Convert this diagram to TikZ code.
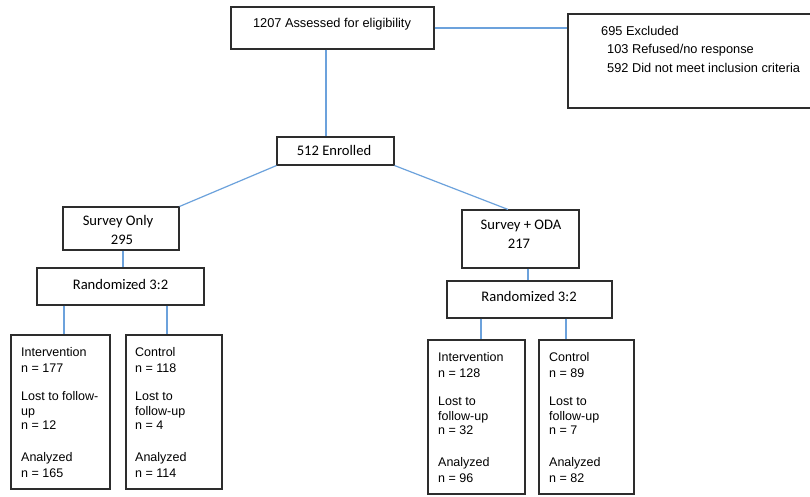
\documentclass[tikz,border=0pt]{standalone}
\usepackage{fontspec}
\setmainfont{Liberation Sans}
\newfontfamily\calfont{Carlito}
\usetikzlibrary{fit}
\definecolor{linkblue}{RGB}{108,162,220}
\definecolor{boxgray}{RGB}{45,45,45}
\begin{document}
\begin{tikzpicture}[x=1pt,y=-1pt,
  pbox/.style={draw=boxgray, line width=1.1pt, inner sep=0pt},
  link/.style={draw=linkblue, line width=1.2pt},
  ar/.style={inner sep=0pt, font=\fontsize{12.8}{15}\selectfont},
  arl/.style={ar, anchor=base west},
  ca/.style={inner sep=0pt, anchor=base, font=\calfont\fontsize{14.6}{17}\selectfont},
  sm/.style={inner sep=0pt, anchor=base west, font=\fontsize{12.5}{15}\selectfont}]
\useasboundingbox (0,0) rectangle (810,496);
\clip (0,0) rectangle (810,496);
\fill[white] (0,0) rectangle (810,496);

% boxes
\node[pbox, fit={(231,7) (434,49)}] (assess) {};
\node[pbox, fit={(568,14) (830,108)}] (excl) {};
\node[pbox, fit={(277,137) (394,165)}] (enrolled) {};
\node[pbox, fit={(63,207) (179,250)}] (sonly) {};
\node[pbox, fit={(462,210) (579,268)}] (oda) {};
\node[pbox, fit={(37,268) (204,305)}] (randa) {};
\node[pbox, fit={(447,281) (612,318)}] (randb) {};
\node[pbox, fit={(11,335) (110,489)}] (inta) {};
\node[pbox, fit={(126,335) (222,489)}] (ctla) {};
\node[pbox, fit={(428,340) (525,494)}] (intb) {};
\node[pbox, fit={(539,340) (634,494)}] (ctlb) {};

% texts
\node[ar, anchor=base] (tassess) at (332,27) {1207 Assessed for eligibility};
\node[arl] (texa) at (601,35) {695 Excluded};
\node[arl] (texb) at (607,53) {103 Refused/no response};
\node[arl] (texc) at (607,72) {592 Did not meet inclusion criteria};
\node[ca] (tenr) at (334,155) {512 Enrolled};
\node[ca] (tsoa) at (118,225) {Survey Only};
\node[ca] (tsob) at (122,244) {295};
\node[ca] (trna) at (120.5,289) {Randomized 3:2};
\node[ca] (todaa) at (521,229) {Survey + ODA};
\node[ca] (todab) at (519,248) {217};
\node[ca] (trnb) at (529,301) {Randomized 3:2};

\foreach \yy/\t [count=\i] in {356/Intervention, 372/{n = 177}, 400/{Lost to follow-}, 415/up, 429/{n = 12}, 461/Analyzed, 477/{n = 165}}
  \node[sm] (ia\i) at (21,\yy) {\t};
\foreach \yy/\t [count=\i] in {356/Control, 372/{n = 118}, 400/{Lost to}, 415/follow-up, 429/{n = 4}, 461/Analyzed, 477/{n = 114}}
  \node[sm] (ca\i) at (135,\yy) {\t};
\foreach \yy/\t [count=\i] in {361/Intervention, 377/{n = 128}, 405/{Lost to}, 420/follow-up, 434/{n = 32}, 466/Analyzed, 482/{n = 96}}
  \node[sm] (ib\i) at (438,\yy) {\t};
\foreach \yy/\t [count=\i] in {361/Control, 377/{n = 89}, 405/{Lost to}, 420/follow-up, 434/{n = 7}, 466/Analyzed, 482/{n = 82}}
  \node[sm] (cb\i) at (549,\yy) {\t};

% connectors
\draw[link] (assess.east) -- (excl.west |- assess.east);
\draw[link] (assess.south -| 326,0) -- (enrolled.north -| 326,0);
\draw[link] (enrolled.south west) -- (sonly.north east);
\draw[link] (enrolled.south east) -- (oda.north -| 508,0);
\draw[link] (sonly.south -| 123,0) -- (randa.north -| 123,0);
\draw[link] (oda.south -| 528,0) -- (randb.north -| 528,0);
\draw[link] (randa.south -| 64,0) -- (inta.north -| 64,0);
\draw[link] (randa.south -| 167,0) -- (ctla.north -| 167,0);
\draw[link] (randb.south -| 481,0) -- (intb.north -| 481,0);
\draw[link] (randb.south -| 566,0) -- (ctlb.north -| 566,0);
\end{tikzpicture}
\end{document}
